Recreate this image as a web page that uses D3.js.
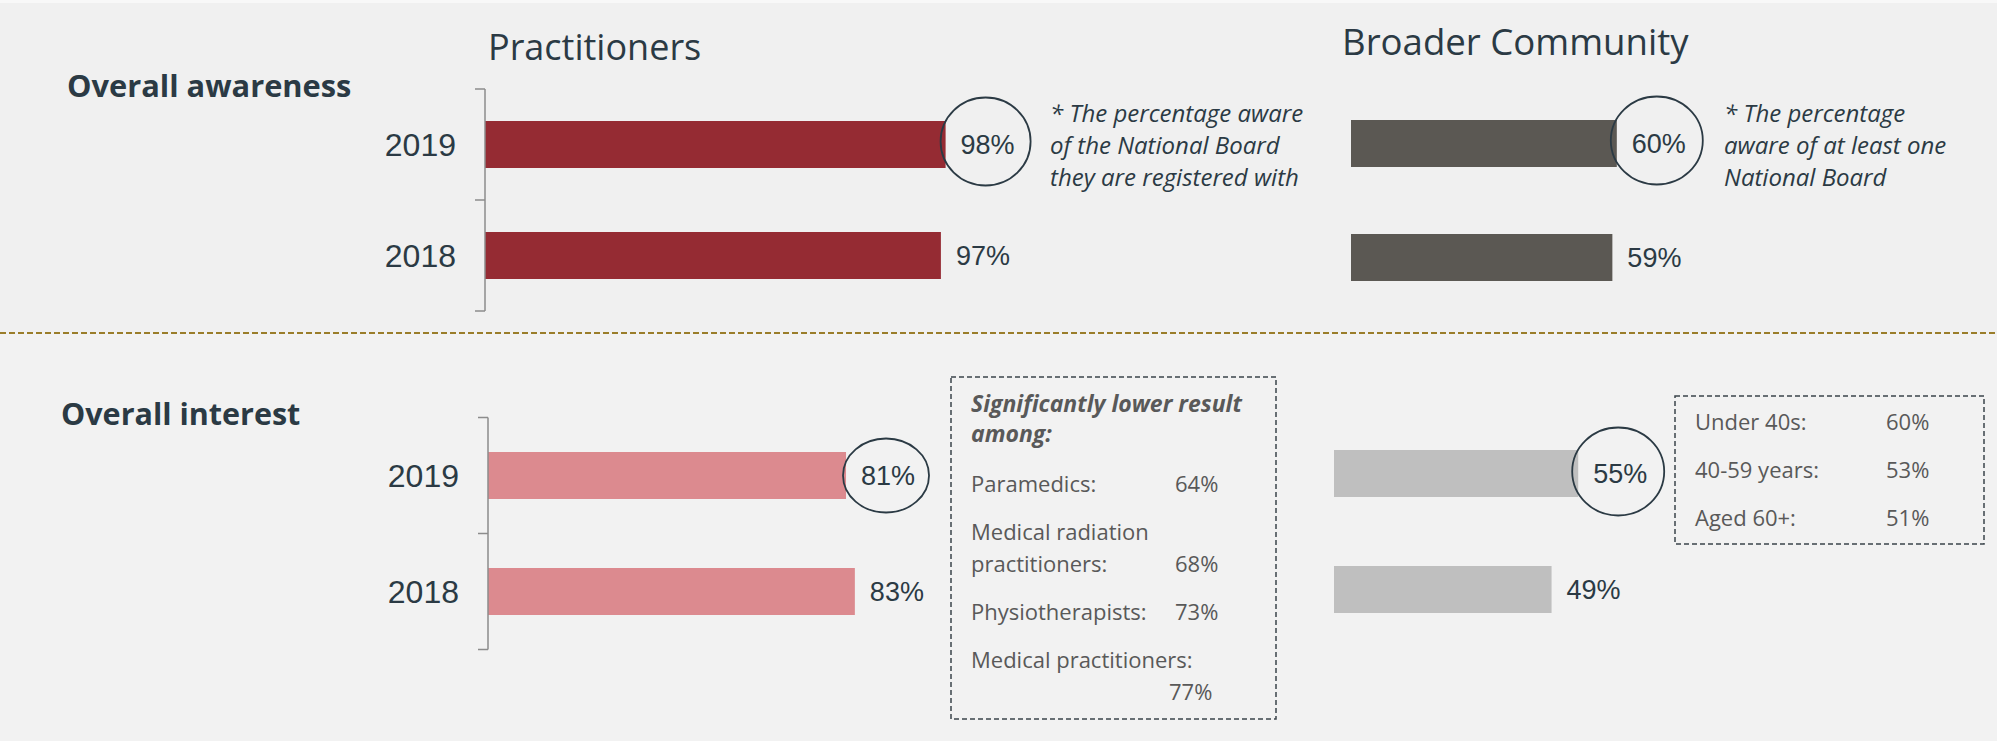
<!DOCTYPE html>
<html>
  <head>
    <meta charset="utf-8">
    <script src="https://cdn.jsdelivr.net/npm/d3@7"></script>
    <style>
      body { margin: 0; background: #f0f0f0; }
      svg { display: block; }
    </style>
  </head>
  <body>
    <script>
      const years = ['2019', '2018']
      const practAwareness = [98, 97]
      const communityAwareness = [60, 59]
      const practInterest = [81, 83]
      const communityInterest = [55, 49]
      const circledYear = '2019'

      const practNote = ['* The percentage aware', 'of the National Board', 'they are registered with']
      const communityNote = ['* The percentage', 'aware of at least one', 'National Board']

      const lowerTitle = ['Significantly lower result', 'among:']
      const lowerGroups = ['Paramedics:', 'Medical radiation\npractitioners:', 'Physiotherapists:', 'Medical practitioners:']
      const lowerValues = [64, 68, 73, 77]

      const ageGroups = ['Under 40s:', '40-59 years:', 'Aged 60+:']
      const ageValues = [60, 53, 51]

      const W = 1997, H = 741
      const dark = '#2b3a44'
      const sans = '"Open Sans", sans-serif'
      const arial = '"Liberation Sans", Arial, sans-serif'

      const svg = d3.select('body').append('svg').attr('width', W).attr('height', H)

      d3.selection.prototype.pen = function(fill, stroke, width) {
        return this.attr('fill', fill)
          .attr('stroke', stroke)
          .attr('stroke-width', width)
      }

      // background: two halves and the dotted divider
      svg.append('rect').attr('width', W).attr('height', 333).attr('fill', '#f0f0f0')
      svg.append('rect').attr('y', 333).attr('width', W).attr('height', H - 333).attr('fill', '#f2f2f2')
      svg.append('rect').attr('width', W).attr('height', 3).attr('fill', '#f8f8f8')
      svg.append('line')
        .attr('x1', 0).attr('x2', W).attr('y1', 333).attr('y2', 333)
        .pen('none', '#9a7d2a', 2)
        .attr('stroke-dasharray', '6,3')

      function text(str, x, y, size, opts = {}) {
        return svg.append('text')
          .attr('x', x).attr('y', y)
          .attr('font-family', opts.family || sans)
          .attr('font-size', size)
          .attr('font-weight', opts.weight || 'normal')
          .attr('font-style', opts.style || 'normal')
          .attr('text-anchor', opts.anchor || 'start')
          .attr('fill', opts.fill || dark)
          .text(str)
      }

      text('Practitioners', 488, 60, 36)
      text('Broader Community', 1342, 55, 36.6)
      text('Overall awareness', 67, 97, 30.8, {weight: 'bold'})
      text('Overall interest', 61, 425, 30.5, {weight: 'bold'})

      // one horizontal bar panel
      function panel({values, color, x0, full, yTop, yBottom, axis, ring}) {
        const y = d3.scaleBand().domain(years).range([yTop, yBottom])
          .paddingInner(1 - 47 / ((yBottom - yTop) / years.length))
        y.paddingOuter(y.paddingInner() / 2)
        const x = d3.scaleLinear().domain([0, 100]).range([x0, x0 + full])
        const rows = years.map((yr, i) => ({year: yr, value: values[i]}))
        const g = svg.append('g')

        g.selectAll('rect').data(rows).join('rect')
          .attr('x', x(0))
          .attr('y', d => y(d.year))
          .attr('width', d => x(d.value) - x(0))
          .attr('height', y.bandwidth())
          .attr('fill', color)

        if (axis) {
          const step = y.step()
          const ticks = d3.range(years.length + 1).map(i => yTop + i * step)
          g.append('path')
            .attr('d', `M${x0},${yTop}V${yBottom}` + ticks.map(t => `M${x0 - 10},${t}H${x0}`).join(''))
            .pen('none', '#8c8c8c', 1.5)
          g.selectAll('.year').data(rows).join('text')
            .attr('class', 'year')
            .attr('x', x0 - 29)
            .attr('y', d => y(d.year) + y.bandwidth() / 2)
            .attr('dy', '0.35em')
            .attr('text-anchor', 'end')
            .attr('font-family', arial)
            .attr('font-size', 32)
            .attr('fill', dark)
            .text(d => d.year)
        }

        g.selectAll('.lbl').data(rows).join('text')
          .attr('class', 'lbl')
          .attr('x', d => d.year === circledYear ? x(d.value) + 42 : x(d.value) + 15)
          .attr('y', d => y(d.year) + y.bandwidth() / 2)
          .attr('dy', '0.35em')
          .attr('text-anchor', d => d.year === circledYear ? 'middle' : 'start')
          .attr('font-family', arial)
          .attr('font-size', 27)
          .attr('fill', dark)
          .text(d => d.value + '%')

        const hi = rows.find(d => d.year === circledYear)
        g.append('ellipse')
          .attr('cx', x(hi.value) + 40)
          .attr('cy', y(hi.year) + y.bandwidth() / 2 - 3 + ring.dy)
          .attr('rx', ring.rx).attr('ry', ring.ry)
          .pen('none', dark, 1.8)
      }

      panel({values: practAwareness, color: '#952b33', x0: 485, full: 470, yTop: 89, yBottom: 311, axis: true,
        ring: {rx: 45, ry: 44, dy: 0}})
      panel({values: communityAwareness, color: '#5b5853', x0: 1351, full: 443, yTop: 86.5, yBottom: 314.5, axis: false,
        ring: {rx: 46, ry: 44, dy: 0}})
      panel({values: practInterest, color: '#dc8a8f', x0: 488, full: 442, yTop: 417.5, yBottom: 649.5, axis: true,
        ring: {rx: 43, ry: 37, dy: 3}})
      panel({values: communityInterest, color: '#bfbfbf', x0: 1334, full: 444, yTop: 415.5, yBottom: 647.5, axis: false,
        ring: {rx: 46, ry: 44, dy: 1}})

      // italic footnotes beside the awareness rings
      practNote.forEach((t, i) => text(t, 1050, 122 + i * 32, 24, {style: 'italic'}))
      communityNote.forEach((t, i) => text(t, 1724, 122 + i * 32, 24, {style: 'italic'}))

      // dashed call-out boxes
      const grey = '#595959'
      svg.append('rect').attr('x', 951).attr('y', 377).attr('width', 325).attr('height', 342)
        .pen('none', '#3b444b', 1.5).attr('stroke-dasharray', '5,3')
      svg.append('rect').attr('x', 1675).attr('y', 396).attr('width', 309).attr('height', 148)
        .pen('none', '#3b444b', 1.5).attr('stroke-dasharray', '5,3')

      lowerTitle.forEach((t, i) => text(t, 971, 412 + i * 30, 23, {weight: 'bold', style: 'italic', fill: grey}))
      let yy = 492
      lowerGroups.forEach((g, i) => {
        const lines = g.split('\n')
        lines.forEach((l, j) => text(l, 971, yy + j * 32, 22, {fill: grey}))
        let vy = yy + (lines.length - 1) * 32
        let vx = 1175
        if (g === 'Medical practitioners:') { vy += 32; vx = 1169 }
        text(lowerValues[i] + '%', vx, vy, 22, {fill: grey})
        yy = vy + 48
      })

      ageGroups.forEach((g, i) => {
        text(g, 1695, 430 + i * 48, 22, {fill: grey})
        text(ageValues[i] + '%', 1886, 430 + i * 48, 22, {fill: grey})
      })
    </script>
  </body>
</html>
